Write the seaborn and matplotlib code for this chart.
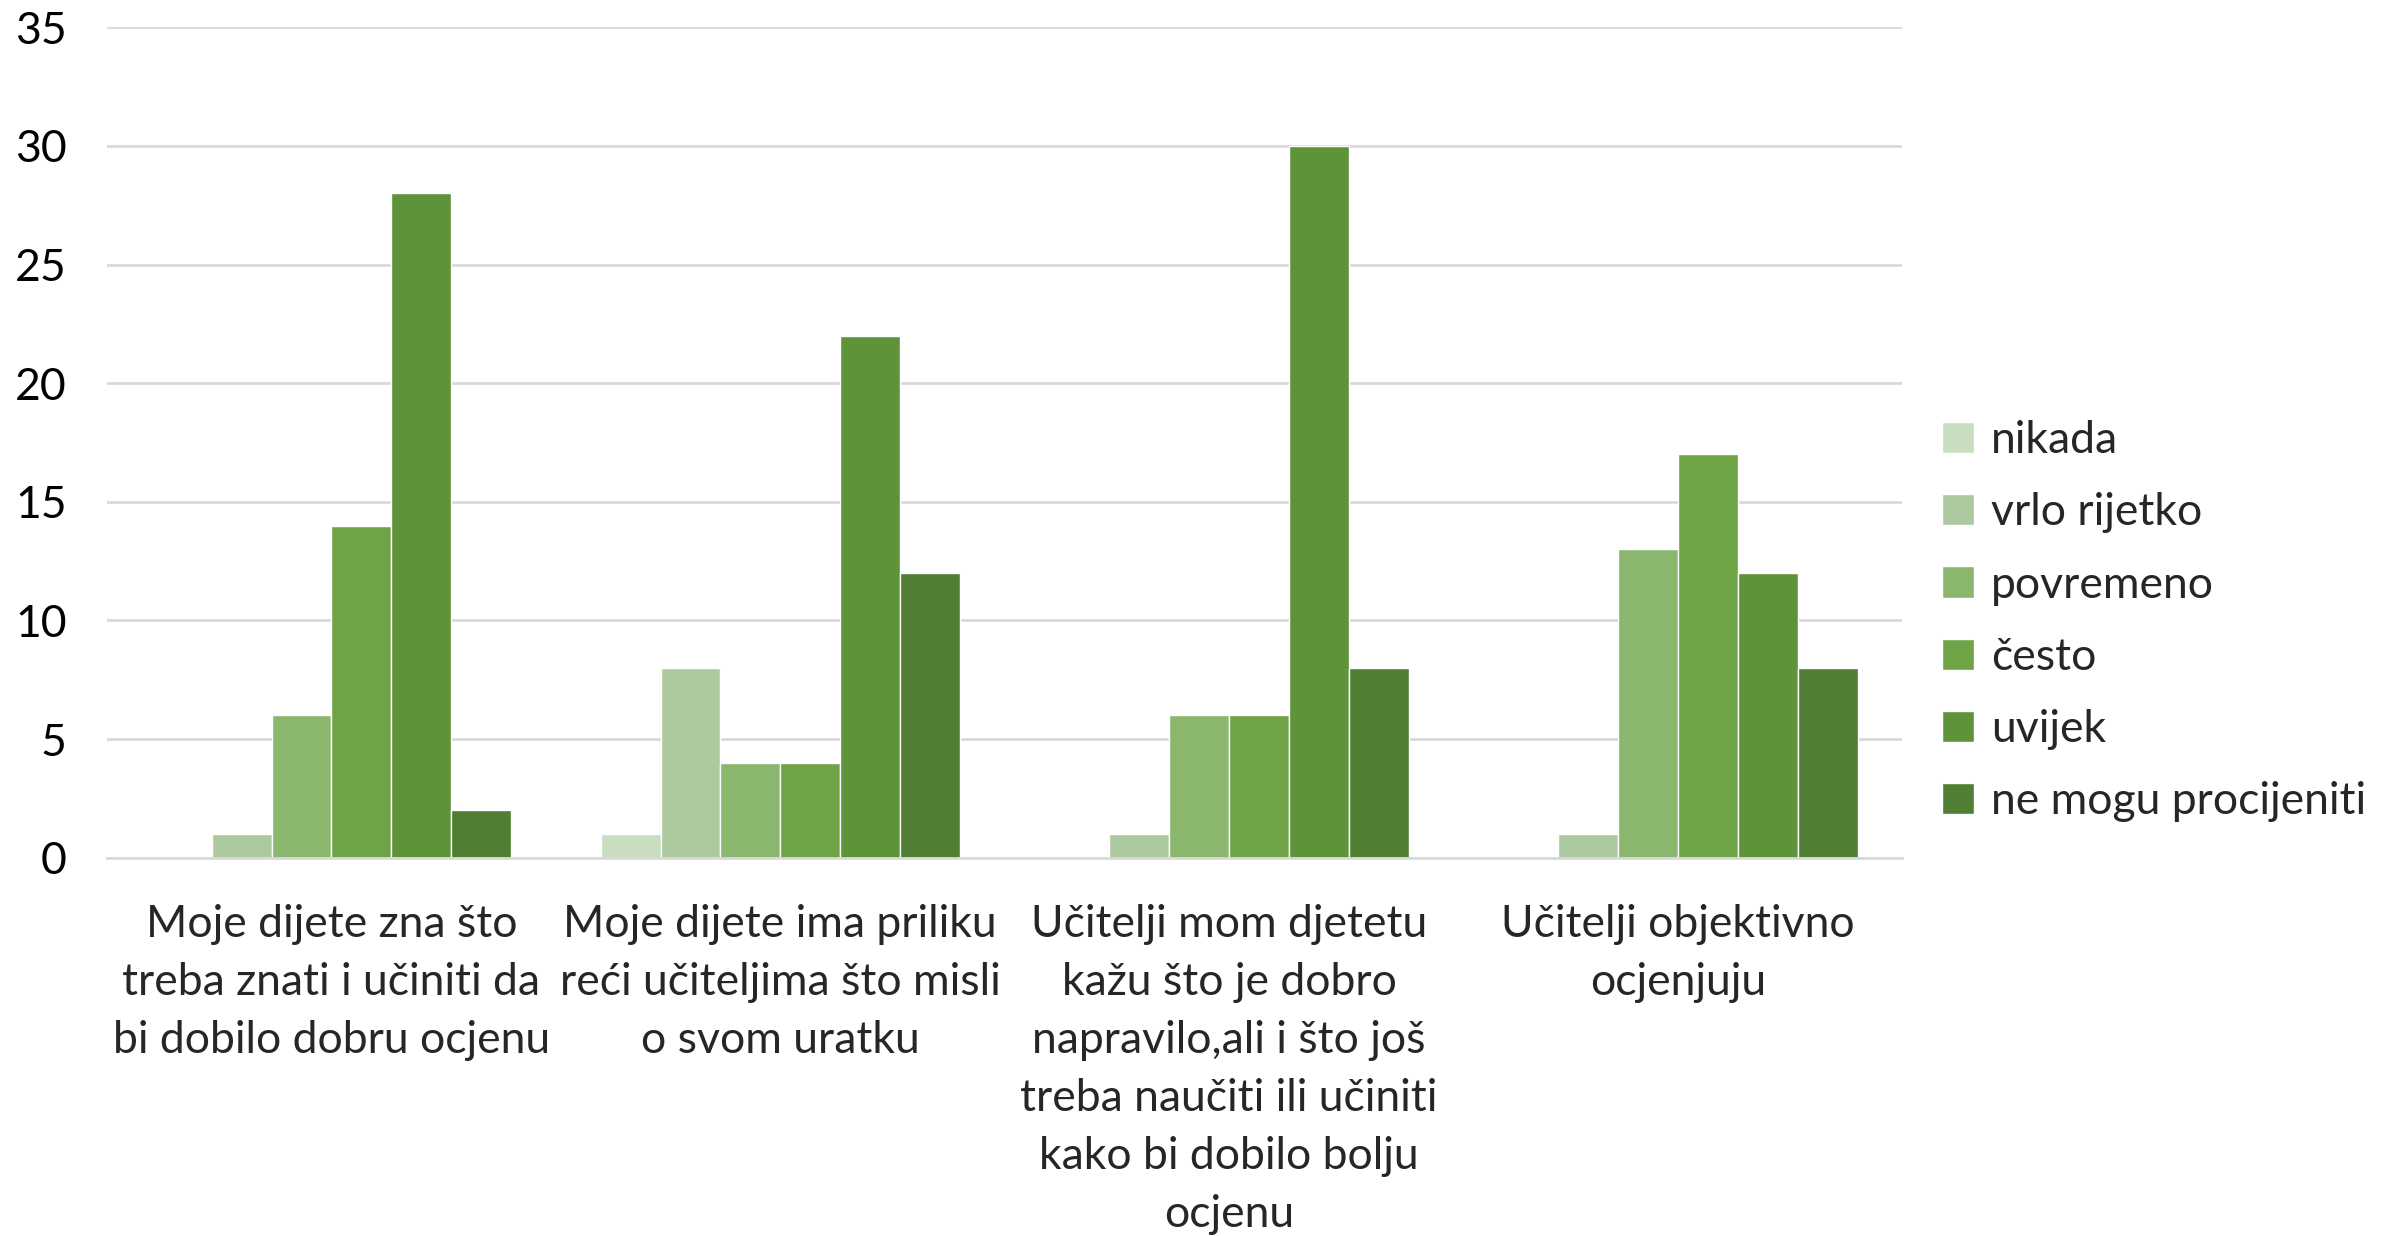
import pandas as pd
import seaborn as sns
import matplotlib.pyplot as plt
from matplotlib.ticker import FixedLocator, NullFormatter

categories = [
    "Moje dijete zna što\ntreba znati i učiniti da\nbi dobilo dobru ocjenu",
    "Moje dijete ima priliku\nreći učiteljima što misli\no svom uratku",
    "Učitelji mom djetetu\nkažu što je dobro\nnapravilo,ali i što još\ntreba naučiti ili učiniti\nkako bi dobilo bolju\nocjenu",
    "Učitelji objektivno\nocjenjuju",
]
answers = ["nikada", "vrlo rijetko", "povremeno", "često", "uvijek", "ne mogu procijeniti"]
nikada = [0, 1, 0, 0]
vrlo_rijetko = [1, 8, 1, 1]
povremeno = [6, 4, 6, 13]
cesto = [14, 4, 6, 17]
uvijek = [28, 22, 30, 12]
ne_mogu = [2, 12, 8, 8]
colors = ["#C9DDC1", "#ADC99F", "#8AB66E", "#6EA445", "#5F933A", "#507E33"]

series = [nikada, vrlo_rijetko, povremeno, cesto, uvijek, ne_mogu]
rows = []
for ans, vals in zip(answers, series):
    for cat, v in zip(categories, vals):
        rows.append({"cat": cat, "ans": ans, "val": v})
df = pd.DataFrame(rows)

sns.set_style("white")
plt.rcParams["font.family"] = ["Lato", "DejaVu Sans"]

fig = plt.figure(figsize=(23.99, 12.36), dpi=100)
ax = fig.add_axes([0.0446, 0.306, 0.7484, 0.672])
sns.barplot(data=df, x="cat", y="val", hue="ans", order=categories, hue_order=answers,
            palette=colors, saturation=1, width=0.8, gap=0, edgecolor="white",
            linewidth=1, ax=ax)

ax.set_ylim(0, 35)
ax.set_xlim(-0.5, 3.5)
ax.set_yticks(range(0, 36, 5))
ax.yaxis.grid(True, color="#D9D9D9", linewidth=2)
ax.set_axisbelow(True)
for s in ["top", "right", "left"]:
    ax.spines[s].set_visible(False)
ax.spines["bottom"].set_color("#D9D9D9")
ax.spines["bottom"].set_linewidth(2)
ax.set_xlabel("")
ax.set_ylabel("")
ax.tick_params(axis="y", length=0, pad=29, labelsize=32, labelcolor="#000000")
ax.tick_params(axis="x", which="major", length=0, pad=33, labelsize=32)
ax.xaxis.set_minor_locator(FixedLocator([-0.5, 0.5, 1.5, 2.5, 3.5]))
ax.xaxis.set_minor_formatter(NullFormatter())
ax.tick_params(axis="x", which="minor", length=14, width=2, color="#D9D9D9")
for lbl in ax.get_xticklabels():
    lbl.set_linespacing(1.52)
    lbl.set_horizontalalignment("center")

leg = ax.legend(loc="center left", bbox_to_anchor=(1.0, 0.285), frameon=False,
                fontsize=32, handlelength=0.7, handleheight=0.7, labelspacing=0.7,
                handletextpad=0.4)

fig.savefig("out.png", dpi=100)
